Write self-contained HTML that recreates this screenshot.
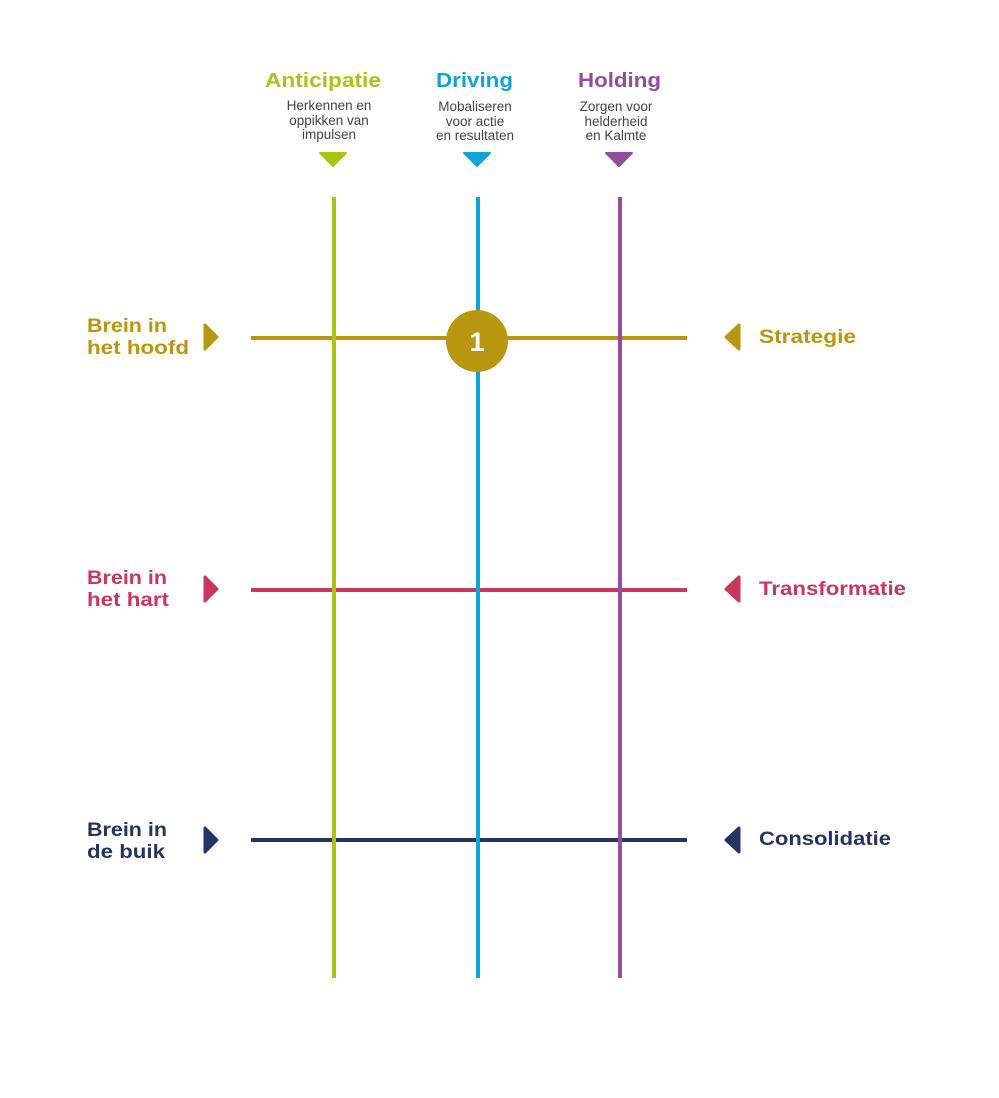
<!DOCTYPE html>
<html><head><meta charset="utf-8"><style>
body{margin:0;background:#fff;width:999px;height:1093px;overflow:hidden}
</style></head><body>
<svg width="999" height="1093" xmlns="http://www.w3.org/2000/svg" style="font-family:'Liberation Sans',sans-serif">
<g font-weight="bold" font-size="20">
<text x="265" y="87" fill="#a9c417" textLength="116" lengthAdjust="spacingAndGlyphs">Anticipatie</text>
<text x="436" y="87" fill="#0ea3d9" textLength="77" lengthAdjust="spacingAndGlyphs">Driving</text>
<text x="578" y="87" fill="#944d9b" textLength="83" lengthAdjust="spacingAndGlyphs">Holding</text>
</g>
<g font-size="13.5" fill="#444" text-anchor="middle">
<text x="329" y="110">Herkennen en</text><text x="329" y="125">oppikken van</text><text x="329" y="139">impulsen</text>
<text x="475" y="111">Mobaliseren</text><text x="475" y="126">voor actie</text><text x="475" y="140">en resultaten</text>
<text x="616" y="111">Zorgen voor</text><text x="616" y="126">helderheid</text><text x="616" y="140">en Kalmte</text>
</g>
<path d="M320 153h26l-13 13z" fill="#a9c417" stroke="#a9c417" stroke-linejoin="round" stroke-width="2"/>
<path d="M464 153h26l-13 13z" fill="#0ea3d9" stroke="#0ea3d9" stroke-linejoin="round" stroke-width="2"/>
<path d="M606 153h26l-13 13z" fill="#944d9b" stroke="#944d9b" stroke-linejoin="round" stroke-width="2"/>
<g stroke-width="4">
<line x1="251" y1="338" x2="687" y2="338" stroke="#b8960f"/>
<line x1="251" y1="590" x2="687" y2="590" stroke="#c9365f"/>
<line x1="251" y1="840" x2="687" y2="840" stroke="#253563"/>
<line x1="334" y1="197" x2="334" y2="978" stroke="#a9c417"/>
<line x1="478" y1="197" x2="478" y2="978" stroke="#0ea3d9"/>
<line x1="620" y1="197" x2="620" y2="978" stroke="#944d9b"/>
</g>
<circle cx="477" cy="341" r="31" fill="#b8960f"/>
<text x="477" y="351" font-size="27" font-weight="bold" fill="#fff" text-anchor="middle">1</text>
<g stroke-linejoin="round" stroke-width="3">
<path d="M205 325v24l12-12z" fill="#b8960f" stroke="#b8960f"/>
<path d="M205 577v24l12-12z" fill="#c9365f" stroke="#c9365f"/>
<path d="M205 828v24l12-12z" fill="#253563" stroke="#253563"/>
<path d="M739 325v24l-13-12z" fill="#b8960f" stroke="#b8960f"/>
<path d="M739 577v24l-13-12z" fill="#c9365f" stroke="#c9365f"/>
<path d="M739 828v24l-13-12z" fill="#253563" stroke="#253563"/>
</g>
<g font-weight="bold" font-size="19">
<text x="87" y="332" fill="#b8960f" textLength="80" lengthAdjust="spacingAndGlyphs">Brein in</text><text x="87" y="354" fill="#b8960f" textLength="102" lengthAdjust="spacingAndGlyphs">het hoofd</text>
<text x="87" y="584" fill="#c9365f" textLength="80" lengthAdjust="spacingAndGlyphs">Brein in</text><text x="87" y="606" fill="#c9365f" textLength="82" lengthAdjust="spacingAndGlyphs">het hart</text>
<text x="87" y="836" fill="#253563" textLength="80" lengthAdjust="spacingAndGlyphs">Brein in</text><text x="87" y="858" fill="#253563" textLength="78" lengthAdjust="spacingAndGlyphs">de buik</text>
<text x="759" y="343" fill="#b8960f" textLength="97" lengthAdjust="spacingAndGlyphs">Strategie</text>
<text x="759" y="595" fill="#c9365f" textLength="147" lengthAdjust="spacingAndGlyphs">Transformatie</text>
<text x="759" y="845" fill="#253563" textLength="132" lengthAdjust="spacingAndGlyphs">Consolidatie</text>
</g>
</svg>
</body></html>
